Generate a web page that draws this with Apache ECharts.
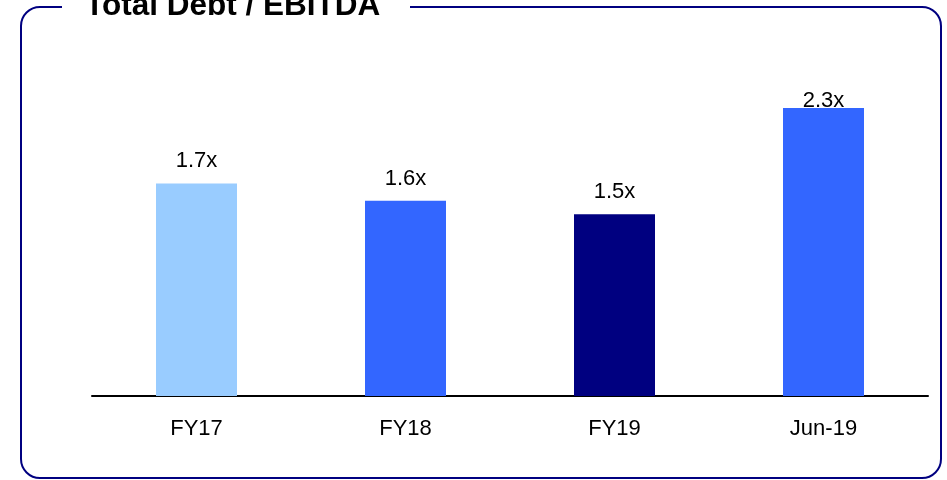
<!DOCTYPE html>
<html>
<head>
<meta charset="utf-8">
<script src="https://cdn.jsdelivr.net/npm/echarts@6/dist/echarts.min.js"></script>
<style>
    html, body { margin: 0; padding: 0; background: #fff; }
    #chart { width: 947px; height: 480px; }
</style>
</head>
<body>
<div id="chart"></div>
<script>
// chart data
var categories = ['FY17', 'FY18', 'FY19', 'Jun-19'];
var ratios = [1.72, 1.58, 1.47, 2.33];
var barColors = ['#99CCFF', '#3366FF', '#000080', '#3366FF'];
var labelGaps = [11, 11, 11, -4];

var myChart = echarts.init(document.getElementById('chart'));

var option = {
    animation: false,
    textStyle: { fontFamily: 'Liberation Sans, Arial, sans-serif' },
    grid: { left: 92, right: 19, top: 87, bottom: 84 },
    xAxis: {
        type: 'category',
        data: categories,
        axisLine: { lineStyle: { color: '#000', width: 2 } },
        axisTick: { show: false },
        axisLabel: { color: '#000', fontSize: 22, margin: 22 }
    },
    yAxis: {
        type: 'value',
        min: 0,
        max: 2.5,
        show: false,
        splitLine: { show: false }
    },
    series: [{
        type: 'bar',
        barWidth: 81,
        data: ratios.map(function (v, i) {
            return {
                value: v,
                itemStyle: { color: barColors[i] },
                label: { distance: labelGaps[i] }
            };
        }),
        label: {
            show: true,
            position: 'top',
            color: '#000',
            fontSize: 22,
            formatter: function (p) { return p.value.toFixed(1) + 'x'; }
        }
    }],
    graphic: [
        {
            type: 'rect',
            shape: { x: 21, y: 7, width: 920, height: 471, r: 19 },
            style: { fill: 'none', stroke: '#000080', lineWidth: 2 },
            z: 1
        },
        {
            type: 'rect',
            shape: { x: 62, y: 0, width: 348, height: 14 },
            style: { fill: '#fff' },
            z: 2
        },
        {
            type: 'text',
            x: 85,
            y: 6,
            style: {
                text: 'Total Debt / EBITDA',
                font: 'bold 31.5px "Liberation Sans", Arial, sans-serif',
                fill: '#000',
                verticalAlign: 'middle'
            },
            z: 3
        }
    ]
};

myChart.setOption(option);
</script>
</body>
</html>
